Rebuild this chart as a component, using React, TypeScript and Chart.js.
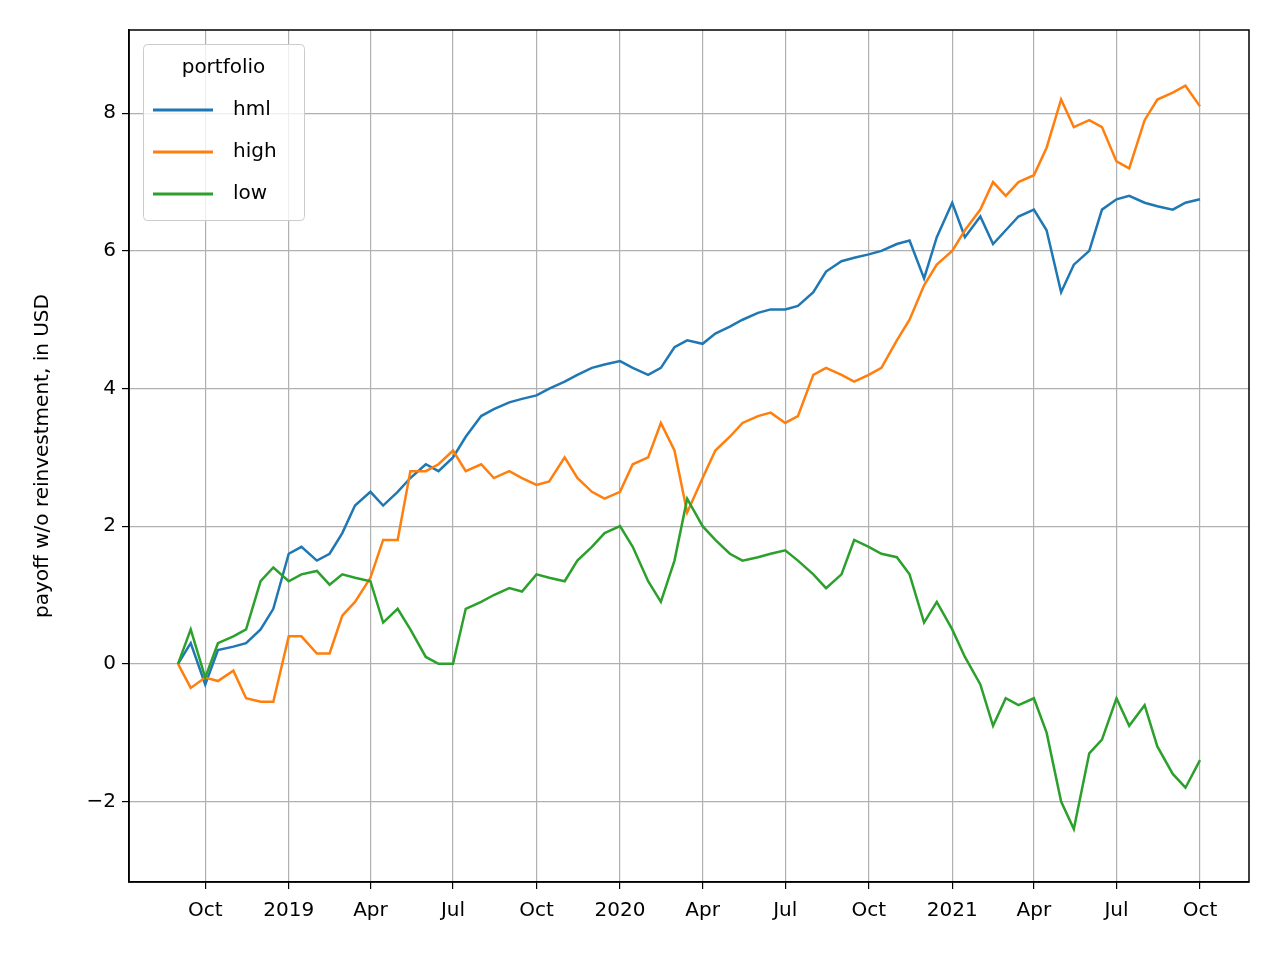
import React, { useEffect, useRef } from "react";
import Chart from "chart.js/auto";

// semi-monthly observation dates, 2018-09-01 .. 2021-10-01
const dates: number[] = [];
for (let y = 2018; y <= 2021; y++) {
  for (let m = 0; m < 12; m++) {
    for (const d of [1, 15]) {
      const t = Date.UTC(y, m, d);
      if (t >= Date.UTC(2018, 8, 1) && t <= Date.UTC(2021, 9, 1)) dates.push(t);
    }
  }
}

const hml = [
  0, 0.3, -0.3, 0.2, 0.25, 0.3, 0.5, 0.8,
  1.6, 1.7, 1.5, 1.6, 1.9, 2.3, 2.5, 2.3, 2.5, 2.7, 2.9, 2.8, 3.0, 3.3, 3.6, 3.7, 3.8, 3.85, 3.9, 4.0, 4.1, 4.2, 4.3, 4.35,
  4.4, 4.3, 4.2, 4.3, 4.6, 4.7, 4.65, 4.8, 4.9, 5.0, 5.1, 5.15, 5.15, 5.2, 5.4, 5.7, 5.85, 5.9, 5.95, 6.0, 6.1, 6.15, 5.6, 6.2,
  6.7, 6.2, 6.5, 6.1, 6.3, 6.5, 6.6, 6.3, 5.4, 5.8, 6.0, 6.6, 6.75, 6.8, 6.7, 6.65, 6.6, 6.7, 6.75,
];
const high = [
  0, -0.35, -0.2, -0.25, -0.1, -0.5, -0.55, -0.55,
  0.4, 0.4, 0.15, 0.15, 0.7, 0.9, 1.25, 1.8, 1.8, 2.8, 2.8, 2.9, 3.1, 2.8, 2.9, 2.7, 2.8, 2.7, 2.6, 2.65, 3.0, 2.7, 2.5, 2.4,
  2.5, 2.9, 3.0, 3.5, 3.1, 2.2, 2.7, 3.1, 3.3, 3.5, 3.6, 3.65, 3.5, 3.6, 4.2, 4.3, 4.2, 4.1, 4.2, 4.3, 4.7, 5.0, 5.5, 5.8,
  6.0, 6.3, 6.6, 7.0, 6.8, 7.0, 7.1, 7.5, 8.2, 7.8, 7.9, 7.8, 7.3, 7.2, 7.9, 8.2, 8.3, 8.4, 8.1,
];
const low = [
  0, 0.5, -0.2, 0.3, 0.4, 0.5, 1.2, 1.4,
  1.2, 1.3, 1.35, 1.15, 1.3, 1.25, 1.2, 0.6, 0.8, 0.5, 0.1, 0.0, 0.0, 0.8, 0.9, 1.0, 1.1, 1.05, 1.3, 1.25, 1.2, 1.5, 1.7, 1.9,
  2.0, 1.7, 1.2, 0.9, 1.5, 2.4, 2.0, 1.8, 1.6, 1.5, 1.55, 1.6, 1.65, 1.5, 1.3, 1.1, 1.3, 1.8, 1.7, 1.6, 1.55, 1.3, 0.6, 0.9,
  0.5, 0.1, -0.3, -0.9, -0.5, -0.6, -0.5, -1.0, -2.0, -2.4, -1.3, -1.1, -0.5, -0.9, -0.6, -1.2, -1.6, -1.8, -1.4,
];

const seriesNames = ["hml", "high", "low"];
const seriesColors = ["#1f77b4", "#ff7f0e", "#2ca02c"];
const yTicks = [-2, 0, 2, 4, 6, 8];
const monthNames = ["Jan", "Feb", "Mar", "Apr", "May", "Jun", "Jul", "Aug", "Sep", "Oct", "Nov", "Dec"];
const xTicks = [
  [2018, 9], [2019, 0], [2019, 3], [2019, 6], [2019, 9], [2020, 0], [2020, 3],
  [2020, 6], [2020, 9], [2021, 0], [2021, 3], [2021, 6], [2021, 9],
].map(([y, m]) => Date.UTC(y, m, 1));

const FONT = "'DejaVu Sans', sans-serif";

const legendPlugin = {
  id: "mplLegend",
  afterDraw(chart: any) {
    const ctx = chart.ctx;
    const x0 = 143, y0 = 44, w = 161, h = 176;
    ctx.save();
    ctx.fillStyle = "rgba(255,255,255,0.8)";
    ctx.strokeStyle = "#cccccc";
    ctx.lineWidth = 1;
    ctx.beginPath();
    ctx.roundRect(x0 + 0.5, y0 + 0.5, w, h, 4);
    ctx.fill();
    ctx.stroke();
    ctx.fillStyle = "#000";
    ctx.font = `20px ${FONT}`;
    ctx.textBaseline = "middle";
    ctx.textAlign = "center";
    ctx.fillText("portfolio", x0 + w / 2, 68);
    ctx.textAlign = "left";
    seriesNames.forEach((n, i) => {
      const y = 110 + i * 42;
      ctx.strokeStyle = seriesColors[i];
      ctx.lineWidth = 3;
      ctx.beginPath();
      ctx.moveTo(153, y);
      ctx.lineTo(213, y);
      ctx.stroke();
      ctx.fillStyle = "#000";
      ctx.fillText(n, 233, y);
    });
    ctx.restore();
  },
};

export default function App() {
  const ref = useRef<HTMLCanvasElement | null>(null);

  useEffect(() => {
    document.body.style.margin = "0";
    if (!ref.current) return;
    const series = [hml, high, low];
    const chart = new Chart(ref.current, {
      type: "line",
      data: {
        datasets: series.map((s, i) => ({
          label: seriesNames[i],
          data: s.map((v, j) => ({ x: dates[j], y: v })),
          borderColor: seriesColors[i],
          borderWidth: 2.5,
          pointRadius: 0,
          tension: 0,
          order: 3 - i,
        })),
      },
      options: {
        animation: false,
        responsive: false,
        layout: { padding: { left: 31, top: 30, right: 31, bottom: 0 } },
        plugins: { legend: { display: false }, tooltip: { enabled: false } },
        scales: {
          x: {
            type: "linear",
            min: Date.UTC(2018, 6, 9),
            max: Date.UTC(2021, 10, 24),
            afterBuildTicks: (s: any) => { s.ticks = xTicks.map((v) => ({ value: v })); },
            afterFit: (s: any) => { s.height = 78; },
            border: { color: "#000", width: 1.5 },
            grid: { color: "#b0b0b0", lineWidth: 1.2, tickLength: 7, tickColor: "#000" },
            ticks: {
              color: "#000",
              font: { family: FONT, size: 20 },
              maxRotation: 0,
              autoSkip: false,
              padding: 10,
              callback: (v: any) => {
                const d = new Date(v);
                return d.getUTCMonth() === 0 ? String(d.getUTCFullYear()) : monthNames[d.getUTCMonth()];
              },
            },
          },
          y: {
            min: -3.17,
            max: 9.21,
            afterBuildTicks: (s: any) => { s.ticks = yTicks.map((v) => ({ value: v })); },
            afterFit: (s: any) => { s.width = 98; },
            border: { color: "#000", width: 1.5 },
            grid: { color: "#b0b0b0", lineWidth: 1.2, tickLength: 7, tickColor: "#000" },
            ticks: {
              color: "#000",
              font: { family: FONT, size: 20 },
              padding: 6,
              callback: (v: any) => (v < 0 ? "\u2212" + Math.abs(v) : String(v)),
            },
            title: {
              display: true,
              text: "payoff w/o reinvestment, in USD",
              color: "#000",
              font: { family: FONT, size: 20 },
              padding: { top: 0, bottom: 12 },
            },
          },
        },
      },
      plugins: [
        {
          id: "frame",
          afterDatasetsDraw(c: any) {
            const { ctx, chartArea: a } = c;
            ctx.save();
            ctx.strokeStyle = "#000";
            ctx.lineWidth = 1.5;
            ctx.strokeRect(a.left, a.top, a.right - a.left, a.bottom - a.top);
            ctx.restore();
          },
        },
        legendPlugin,
      ],
    });
    return () => chart.destroy();
  }, []);

  return <canvas ref={ref} width={1280} height={960} style={{ display: "block" }} />;
}
